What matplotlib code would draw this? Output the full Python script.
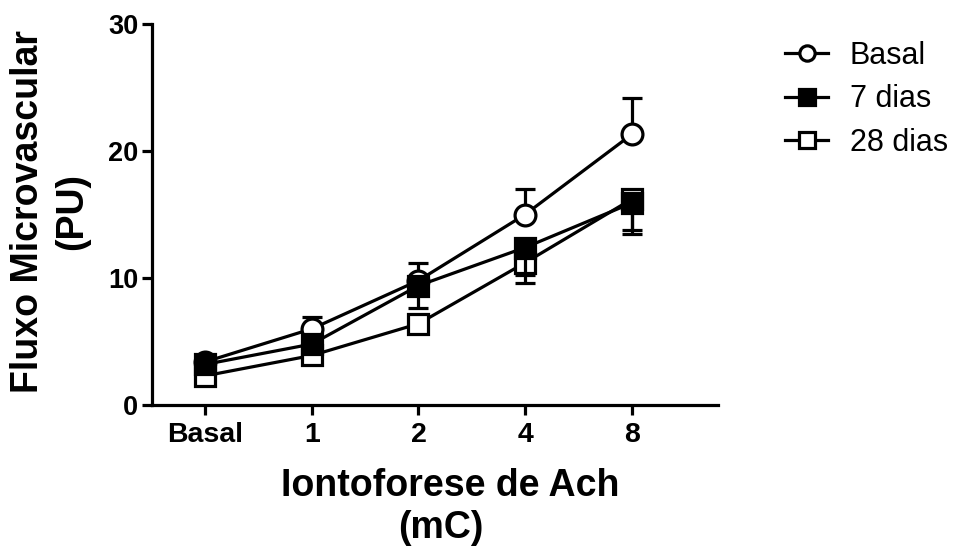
import numpy as np
import matplotlib.pyplot as plt
from matplotlib.lines import Line2D

plt.rcParams['font.family'] = ['Liberation Sans', 'DejaVu Sans']

# data
doses = ["Basal", "1", "2", "4", "8"]
basal_mean = [3.4, 6.0, 9.8, 15.0, 21.3]
basal_err = [0.3, 0.9, 1.4, 2.0, 2.9]      # upper only
d7_mean = [3.2, 4.8, 9.4, 12.4, 15.9]
d7_err = [0.3, 0.5, 1.8, 2.2, 2.4]         # lower only
d28_mean = [2.3, 3.9, 6.4, 11.2, 16.2]
d28_err = [0.3, 0.4, 0.6, 1.6, 2.4]        # lower only

W, H = 962, 552
fig = plt.figure(figsize=(W / 100, H / 100), dpi=100)
ax = fig.add_axes([152 / W, 1 - 405 / H, (718 - 152) / W, (405 - 24) / H])

x = np.arange(len(doses))
lw = 2.3
common = dict(color="black", linewidth=lw, markersize=15, markeredgewidth=2.3,
              capsize=7.5, capthick=2.3, elinewidth=2.3)

zeros = np.zeros(len(doses))
ax.errorbar(x, basal_mean, yerr=[zeros, basal_err], marker="o",
            markerfacecolor="white", zorder=3, **common)
ax.errorbar(x, d7_mean, yerr=[d7_err, zeros], marker="s",
            markerfacecolor="black", zorder=4, **common)
ax.errorbar(x, d28_mean, yerr=[d28_err, zeros], marker="s",
            markerfacecolor="white", zorder=2, **common)

ax.set_ylim(0, 30)
ax.set_xlim(-0.5, 4.81)
ax.set_yticks([0, 10, 20, 30])
ax.set_xticks(x)
ax.set_xticklabels(doses)
for spine in ["top", "right"]:
    ax.spines[spine].set_visible(False)
for spine in ["left", "bottom"]:
    ax.spines[spine].set_linewidth(2.3)
ax.tick_params(width=2.3, length=7)
ax.tick_params(axis="x", labelsize=20.5, pad=5)
ax.tick_params(axis="y", labelsize=19.5, pad=3)
for lab in ax.get_xticklabels() + ax.get_yticklabels():
    lab.set_fontweight("bold")

fig.text(450 / W, 1 - 486 / H, "Iontoforese de Ach", ha="center", va="center",
         fontsize=27, fontweight="bold")
fig.text(441 / W, 1 - 528 / H, "(mC)", ha="center", va="center",
         fontsize=27, fontweight="bold")
fig.text(28 / W, 1 - 212 / H, "Fluxo Microvascular", ha="center", va="center",
         rotation=90, fontsize=27, fontweight="bold")
fig.text(72 / W, 1 - 212 / H, "(PU)", ha="center", va="center",
         rotation=90, fontsize=27, fontweight="bold")

handles = [
    Line2D([], [], color="black", lw=lw, marker="o", markersize=11,
           markeredgewidth=2.3, markerfacecolor="white"),
    Line2D([], [], color="black", lw=lw, marker="s", markersize=11,
           markeredgewidth=2.3, markerfacecolor="black"),
    Line2D([], [], color="black", lw=lw, marker="s", markersize=11,
           markeredgewidth=2.3, markerfacecolor="white"),
]
ax.legend(handles, ["Basal", "7 dias", "28 dias"], loc="upper left",
          bbox_to_anchor=(758 / W, 1 - 13 / H), bbox_transform=fig.transFigure,
          frameon=False, fontsize=22, handlelength=1.4, handletextpad=0.7,
          labelspacing=0.45)

fig.savefig("out.png", dpi=100, facecolor="white")
